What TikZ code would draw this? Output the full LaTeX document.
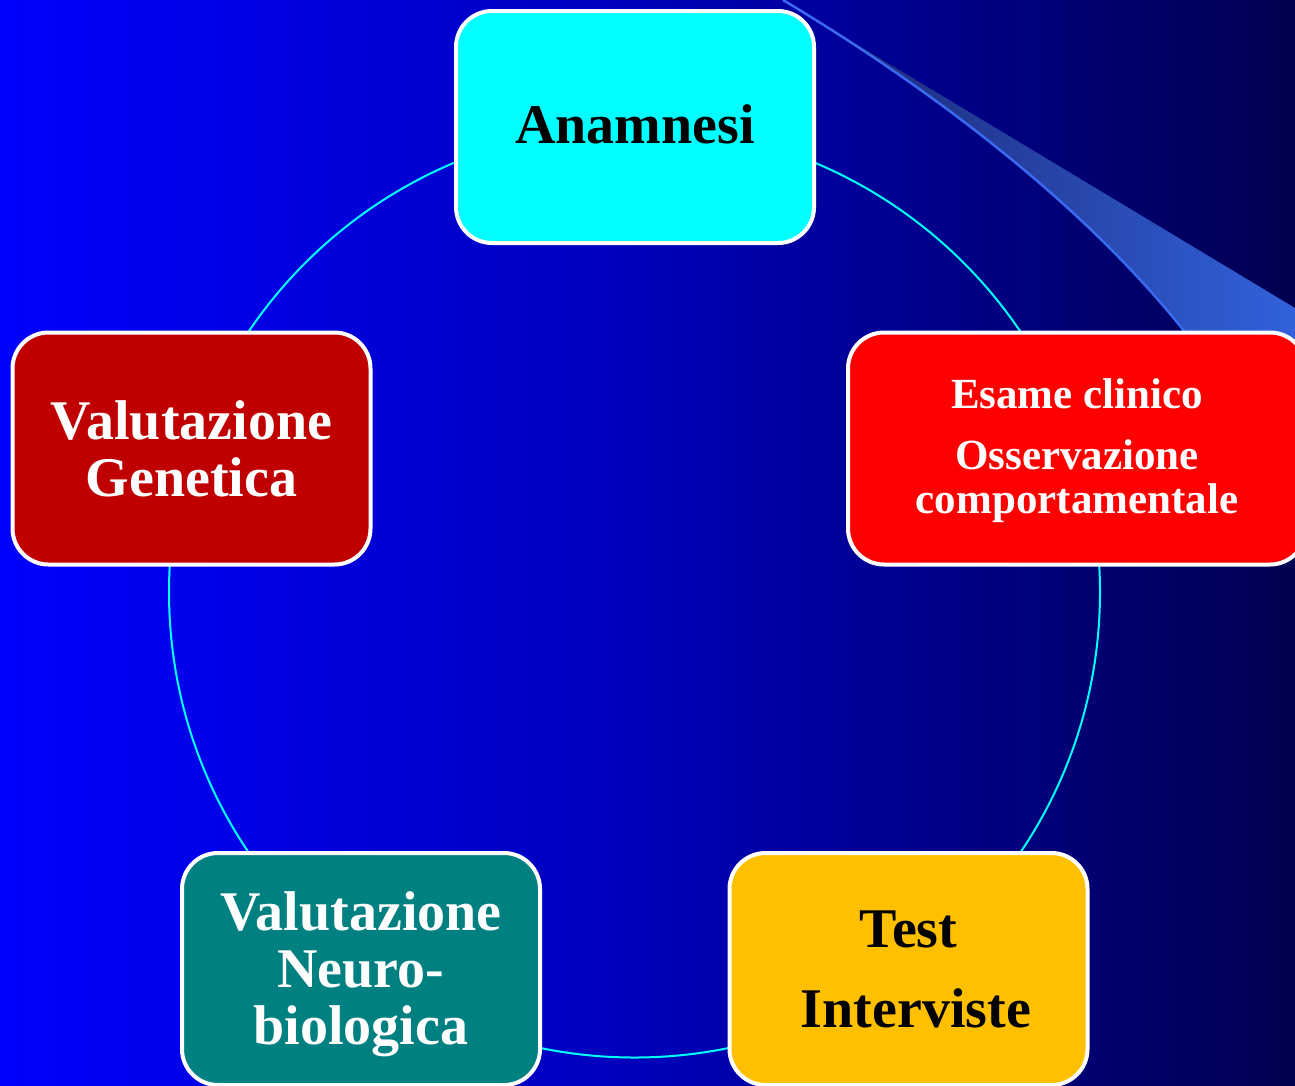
\documentclass[tikz,border=0pt]{standalone}
\usepackage{fontspec}
\setmainfont{Liberation Serif}
\definecolor{bgA}{RGB}{0,0,255}
\definecolor{bgB}{RGB}{0,0,185}
\definecolor{bgC}{RGB}{0,0,80}
\definecolor{swA}{RGB}{25,35,110}
\definecolor{swB}{RGB}{50,98,220}
\definecolor{swL}{RGB}{58,105,240}
\definecolor{cyanbox}{RGB}{0,255,255}
\definecolor{redbox}{RGB}{255,0,0}
\definecolor{genbox}{RGB}{192,0,0}
\definecolor{tealbox}{RGB}{0,128,128}
\definecolor{orangebox}{RGB}{255,192,0}
\definecolor{ringcol}{RGB}{0,255,255}
\begin{document}
\begin{tikzpicture}[x=1pt,y=-1pt,
  box/.style={draw=white, line width=4pt, rounded corners=36pt,
    minimum width=358pt, minimum height=232pt, inner sep=0pt},
  lbl/.style={align=center, inner sep=0pt, font=\bfseries\fontsize{56}{57}\selectfont},
  ring/.style={draw=ringcol, line width=2pt},
  swline/.style={draw=swL, line width=2.5pt}]
\useasboundingbox (0,0) rectangle (1295,1085);
% background
\shade[left color=bgA, right color=bgB] (0,0) rectangle (648,1085);
\shade[left color=bgB, right color=bgC] (647,0) rectangle (1295,1085);
% swoosh
\shade[left color=swA, right color=swB] (783,0) -- (1300,311) -- (1300,345) -- (1195,345)
  .. controls (1100,220) and (950,100) .. (783,0) -- cycle;
\draw[swline] (783,0) .. controls (950,100) and (1100,220) .. (1195,345);
% ring
\draw[ring] (634.5,592) circle (465.5pt);
% boxes
\node[box, fill=cyanbox] (anam) at (635,127) {};
\node[box, fill=redbox, minimum width=458pt] (esame) at (1077,448.5) {};
\node[box, fill=genbox] (gen) at (191.5,448.5) {};
\node[box, fill=tealbox] (neuro) at (361,969) {};
\node[box, fill=orangebox] (test) at (908.5,969) {};
% texts
\node[lbl, text=black] (anamT) at ([yshift=3pt]anam.center) {Anamnesi};
\node[lbl, text=white, font=\bfseries\fontsize{43}{44}\selectfont] (esameT)
  at ([yshift=-2.5pt]esame.center) {Esame clinico\\[17pt]Osservazione\\comportamentale};
\node[lbl, text=white] (genT) at (gen.center) {Valutazione\\Genetica};
\node[lbl, text=white] (neuroT) at ([yshift=-5pt]neuro.center) {Valutazione\\Neuro-\\biologica};
\node[lbl, text=black] (testT) at (test.center) {Test\\[23pt]\hspace*{15pt}Interviste};
\end{tikzpicture}
\end{document}
